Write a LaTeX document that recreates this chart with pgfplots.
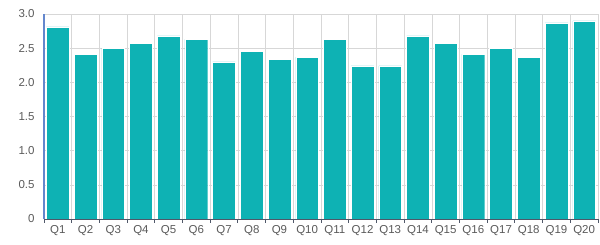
\documentclass[border=0pt]{standalone}
\usepackage{pgfplots}
\pgfplotsset{compat=1.18}
\usepackage{fontspec}
\setmainfont{Liberation Sans}
\definecolor{barc}{RGB}{14,178,180}
\definecolor{gridc}{RGB}{215,215,215}
\definecolor{txtc}{RGB}{90,90,90}
\definecolor{xaxc}{RGB}{80,88,105}
\definecolor{yaxc}{RGB}{100,135,205}
\begin{document}
\begin{tikzpicture}[x=1pt,y=1pt]
\begin{axis}[
  at={(0,0)}, anchor=south west,
  scale only axis, width=554pt, height=205pt,
  xmin=-0.5, xmax=19.5, ymin=0, ymax=3,
  axis x line*=bottom, axis y line*=left,
  x axis line style={draw=xaxc, line width=0.9pt},
  y axis line style={draw=yaxc, line width=1.2pt},
  xtick={0,...,19},
  xticklabels={Q1,Q2,Q3,Q4,Q5,Q6,Q7,Q8,Q9,Q10,Q11,Q12,Q13,Q14,Q15,Q16,Q17,Q18,Q19,Q20},
  minor xtick={-0.5,0.5,...,19.5},
  major x tick style={draw=none},
  minor tick length=4pt,
  minor x tick style={draw=xaxc, line width=0.9pt},
  tick align=outside,
  xminorgrids=true, ymajorgrids=true,
  minor grid style={draw=gridc, line width=0.6pt},
  major grid style={draw=gridc, line width=0.6pt},
  ytick={0,0.5,1,1.5,2,2.5,3},
  yticklabels={0,0.5,1.0,1.5,2.0,2.5,3.0},
  major y tick style={draw=none},
  /pgf/number format/assume math mode=true,
  tick label style={font=\fontsize{11.5}{12}\selectfont, text=txtc},
  xticklabel style={inner sep=1pt, yshift=-1pt},
  yticklabel style={inner sep=1pt, xshift=-4pt},
]
\addplot[ybar, bar width=0.82, fill=barc, draw=white, line width=0.4pt, bar shift=0pt]
coordinates {(0,2.81) (1,2.41) (2,2.50) (3,2.57) (4,2.68) (5,2.63) (6,2.30) (7,2.45) (8,2.34) (9,2.37)
(10,2.63) (11,2.24) (12,2.24) (13,2.68) (14,2.57) (15,2.41) (16,2.50) (17,2.37) (18,2.87) (19,2.90)};
\end{axis}
\pgfresetboundingbox
\path[use as bounding box] (-44pt,-26pt) rectangle (556pt,219pt);
\end{tikzpicture}
\end{document}
